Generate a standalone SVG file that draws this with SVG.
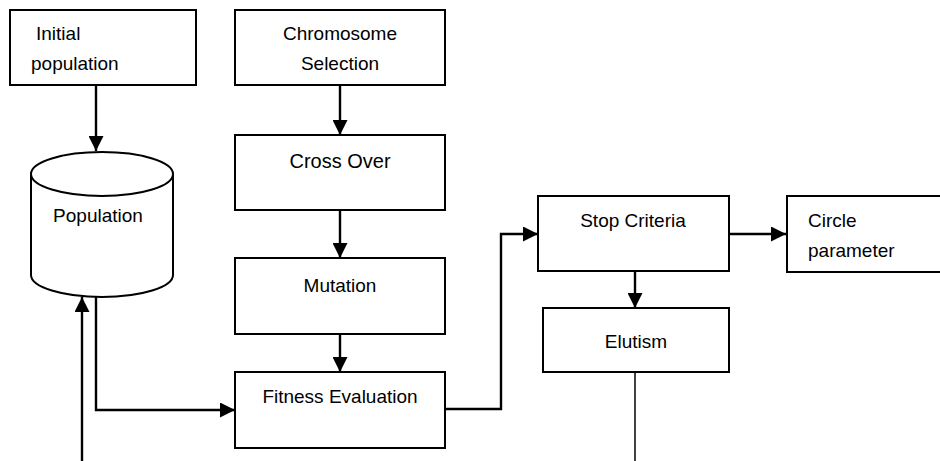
<svg xmlns="http://www.w3.org/2000/svg" width="940" height="461" viewBox="0 0 940 461">
<defs>
<marker id="a" viewBox="0 0 10 10" refX="10" refY="5" markerWidth="15" markerHeight="15" markerUnits="userSpaceOnUse" orient="auto">
<path d="M0,0 L10,5 L0,10 Z" fill="#000"/>
</marker>
</defs>
<style>
.box{fill:#fff;stroke:#000;stroke-width:2}
.t{font-family:"Liberation Sans",Arial,sans-serif;font-size:19px;fill:#000}
.c{text-anchor:middle}
.ln{fill:none;stroke:#000;stroke-width:2.4}
.thin{fill:none;stroke:#000;stroke-width:1.5}
</style>
<rect width="940" height="461" fill="#fff"/>
<g id="connectors">
<line class="ln" x1="96" y1="85" x2="96" y2="151" marker-end="url(#a)"/>
<line class="ln" x1="340" y1="85" x2="340" y2="135" marker-end="url(#a)"/>
<line class="ln" x1="340" y1="210" x2="340" y2="258" marker-end="url(#a)"/>
<line class="ln" x1="340" y1="334" x2="340" y2="372" marker-end="url(#a)"/>
<polyline class="ln" points="96,297 96,410 235,410" marker-end="url(#a)"/>
<line class="ln" x1="82" y1="461" x2="82" y2="297" marker-end="url(#a)"/>
<polyline class="ln" points="445,409 501,409 501,234 538,234" marker-end="url(#a)"/>
<line class="ln" x1="729" y1="234" x2="786" y2="234" marker-end="url(#a)"/>
<line class="ln" x1="635" y1="271" x2="635" y2="308" marker-end="url(#a)"/>
<line class="thin" x1="635" y1="372" x2="635" y2="461"/>
</g>
<g id="initial">
<rect class="box" x="10" y="10" width="186" height="75"/>
<text class="t" x="36" y="40">Initial</text>
<text class="t" x="31" y="70">population</text>
</g>
<g id="chromosome">
<rect class="box" x="235" y="10" width="210" height="75"/>
<text class="t c" x="340" y="40">Chromosome</text>
<text class="t c" x="340" y="70">Selection</text>
</g>
<g id="population">
<path class="box" d="M31,174 L31,275 A71,22 0 0 0 173,275 L173,174 A71,22 0 0 0 31,174 Z"/>
<path class="box" style="fill:none" d="M31,174 A71,22 0 0 0 173,174"/>
<text class="t c" x="98" y="222">Population</text>
</g>
<g id="crossover">
<rect class="box" x="235" y="135" width="210" height="75"/>
<text class="t c" x="340" y="168" style="font-size:20px">Cross Over</text>
</g>
<g id="mutation">
<rect class="box" x="235" y="258" width="210" height="76"/>
<text class="t c" x="340" y="292">Mutation</text>
</g>
<g id="fitness">
<rect class="box" x="235" y="372" width="210" height="76"/>
<text class="t c" x="340" y="403">Fitness Evaluation</text>
</g>
<g id="stop">
<rect class="box" x="538" y="196" width="191" height="75"/>
<text class="t c" x="633" y="227">Stop Criteria</text>
</g>
<g id="circle">
<rect class="box" x="787" y="196" width="160" height="76"/>
<text class="t" x="808" y="227">Circle</text>
<text class="t" x="808" y="257">parameter</text>
</g>
<g id="elutism">
<rect class="box" x="543" y="308" width="186" height="64"/>
<text class="t c" x="636" y="348">Elutism</text>
</g>
</svg>
